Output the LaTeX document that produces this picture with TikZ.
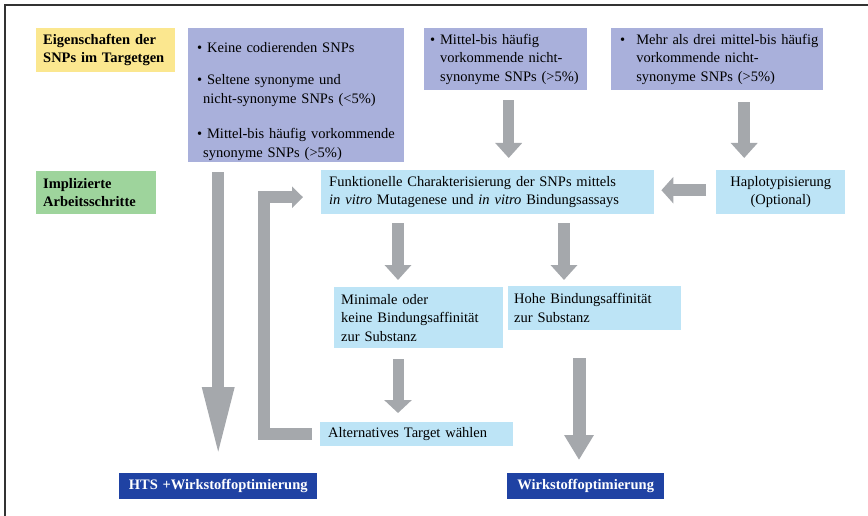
\documentclass[tikz,border=0pt]{standalone}
\usepackage{fontspec}
\setmainfont{Liberation Serif}
\usetikzlibrary{arrows.meta}

\definecolor{gelb}{HTML}{FBE78F}
\definecolor{lila}{HTML}{A9B0DB}
\definecolor{gruen}{HTML}{9ED49C}
\definecolor{hellblau}{HTML}{BDE4F6}
\definecolor{dunkelblau}{HTML}{1F42A3}
\definecolor{pfeilgrau}{HTML}{A5A8AC}

\tikzset{
  kasten/.style={anchor=north west, inner xsep=0pt, inner ysep=0pt, align=left,
    font=\fontsize{14.5}{18.5}\selectfont, execute at begin node={\leftskip=#1\relax}},
  kasten/.default=8pt,
  mitte/.style={anchor=north west, inner xsep=0pt, inner ysep=0pt, align=center,
    font=\fontsize{14.5}{18.5}\selectfont},
  ziel/.style={mitte, fill=dunkelblau, text=white,
    font=\fontsize{14.5}{18.5}\selectfont\bfseries},
  pfeil/.style={draw=pfeilgrau, line width=11pt, line join=miter,
    -{Triangle[length=15pt, width=26pt]}}
}

\begin{document}
\begin{tikzpicture}[x=1pt, y=-1pt]
\useasboundingbox (0,0) rectangle (868,516);
\draw[line width=1.2pt, black!80] (5,516) -- (5,5) -- (868,5);

% obere Zeile: Eigenschaften
\node[kasten=7pt, fill=gelb, text width=139pt, minimum height=44pt, font=\fontsize{14.5}{18.5}\selectfont\bfseries]
  (eig) at (36,28) {Eigenschaften der\\SNPs im Targetgen};
\node[kasten=9pt, fill=lila, text width=216pt, minimum height=134pt] (snpa) at (188,28)
  {\rule{0pt}{22pt}\textbullet\ Keine codierenden SNPs\\[14pt]
   \textbullet\ Seltene synonyme und\\
   \hspace*{6pt}nicht-synonyme SNPs (<5\%)\\[17pt]
   \textbullet\ Mittel-bis häufig vorkommende\\
   \hspace*{6pt}synonyme SNPs (>5\%)};
\node[kasten=6pt, fill=lila, text width=163pt, minimum height=62pt] (snpb) at (424,28)
  {\textbullet\ Mittel-bis häufig\\
   \phantom{\textbullet\ }vorkommende nicht-\\
   \phantom{\textbullet\ }synonyme SNPs (>5\%)};
\node[kasten=9pt, fill=lila, text width=212pt, minimum height=62pt] (snpc) at (611,28)
  {\textbullet\hspace{11pt}Mehr als drei mittel-bis häufig\\
   \phantom{\textbullet\hspace{11pt}}vorkommende nicht-\\
   \phantom{\textbullet\hspace{11pt}}synonyme SNPs (>5\%)};

% mittlere Zeile: Arbeitsschritte
\node[kasten=7pt, fill=gruen, text width=120pt, minimum height=43pt, font=\fontsize{14.5}{18.5}\selectfont\bfseries]
  (impl) at (36,171) {Implizierte\\Arbeitsschritte};
\node[kasten, fill=hellblau, text width=333pt, minimum height=44pt] (funk) at (321,170)
  {Funktionelle Charakterisierung der SNPs mittels\\
   \textit{in vitro} Mutagenese und \textit{in vitro} Bindungsassays};
\node[mitte, fill=hellblau, text width=129pt, minimum height=44pt] (haplo) at (716,170)
  {Haplotypisierung\\(Optional)};
\node[kasten=7pt, fill=hellblau, text width=169pt, minimum height=61pt] (mini) at (334,287)
  {Minimale oder\\keine Bindungsaffinität\\zur Substanz};
\node[kasten=6pt, fill=hellblau, text width=173pt, minimum height=44pt] (hohe) at (508,286)
  {Hohe Bindungsaffinität\\zur Substanz};
\node[kasten, fill=hellblau, text width=193pt, minimum height=24pt] (alt) at (320,422)
  {Alternatives Target wählen};

% Ergebnisse
\node[ziel, text width=198pt, minimum height=26pt] (hts) at (119,473)
  {HTS +Wirkstoffoptimierung};
\node[ziel, text width=157pt, minimum height=26pt] (wirk) at (507,473)
  {Wirkstoffoptimierung};

% Pfeile
\draw[pfeil, line width=12pt, -{Triangle[length=70pt, width=29pt]}, shorten <=10pt, shorten >=16pt]
  (hts.north |- snpa.south) -- (hts.north);
\draw[pfeil, shorten <=10pt, shorten >=12pt]
  ([xshift=3pt]snpb.south) -- ([xshift=3pt]snpb.south |- funk.north);
\draw[pfeil, line width=12pt, shorten <=12pt, shorten >=12pt]
  ([xshift=27pt]snpc.south) -- ([xshift=27pt]snpc.south |- haplo.north);
\draw[pfeil, line width=12pt, -{Triangle[length=12pt, width=26pt]}, shorten <=10pt, shorten >=7pt]
  ([yshift=2pt]haplo.west) -- ([yshift=2pt]haplo.west -| funk.east);
\draw[pfeil, line width=12pt, shorten <=9pt, shorten >=7pt]
  ([xshift=64pt]mini.north west |- funk.south) -- ([xshift=64pt]mini.north west);
\draw[pfeil, line width=12pt, shorten <=9pt, shorten >=6pt]
  ([xshift=56pt]hohe.north west |- funk.south) -- ([xshift=56pt]hohe.north west);
\draw[pfeil, shorten <=11pt, shorten >=9pt, -{Triangle[length=13pt, width=27pt]}]
  ([xshift=64pt]mini.south west) -- ([xshift=78pt]alt.north west);
\draw[pfeil, line width=13pt, -{Triangle[length=25pt, width=28pt]}, shorten <=28pt, shorten >=13pt]
  ([xshift=72pt]wirk.north west |- hohe.south) -- ([xshift=72pt]wirk.north west);

% Rueckfuehrung zum Funktionstest
\coordinate (knick) at (264,0);
\draw[pfeil, line width=12pt, -{Triangle[length=11pt, width=21pt]}, shorten <=8pt, shorten >=18pt]
  (alt.west) -- (alt.west -| knick) |- ([yshift=-5pt]funk.west);
\end{tikzpicture}
\end{document}
